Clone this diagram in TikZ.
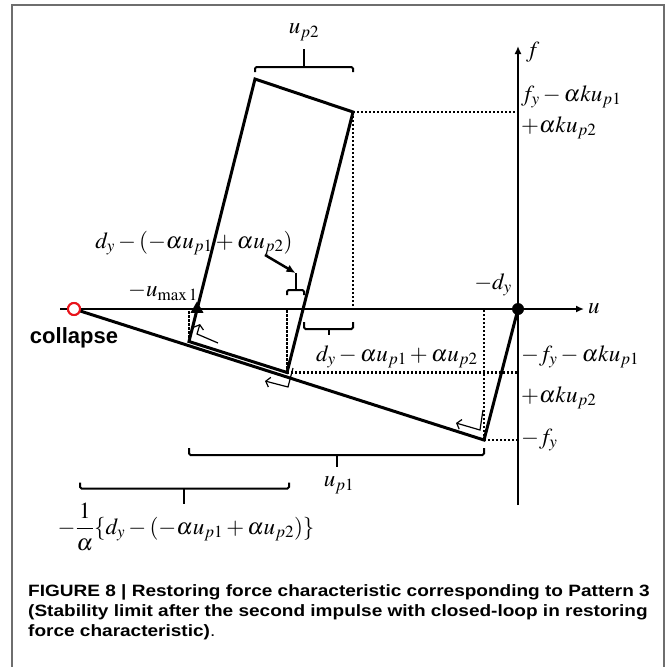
\documentclass[tikz,border=0pt]{standalone}
\usepackage{mathptmx}
\usepackage{fontspec}
\setsansfont{Liberation Sans}
\newfontfamily\capfont{Liberation Sans}[FakeStretch=1.16]
\usepackage{tikz}
\usetikzlibrary{positioning, arrows.meta, shapes.geometric}
\definecolor{framegray}{HTML}{6E6E6E}
\definecolor{collred}{HTML}{E8141B}
\tikzset{
  loopline/.style = {line width=3pt, line join=miter},
  axis/.style     = {line width=2pt, -{Latex[length=8pt,width=7pt]}},
  guide/.style    = {line width=2.2pt, dash pattern=on 2.2pt off 1.8pt},
  brack/.style    = {line width=2pt, rounded corners=1.5pt},
  pointer/.style  = {line width=2.5pt, -{Latex[length=9pt,width=8pt]}},
  flow/.style     = {line width=1.2pt, -{Straight Barb[length=4pt,width=10pt]}},
  lbl/.style      = {inner sep=0pt, font=\fontsize{23}{27}\selectfont},
  sanslbl/.style  = {inner sep=0pt, font=\sffamily\bfseries\fontsize{22}{26}\selectfont},
  captext/.style  = {inner sep=0pt, anchor=base west,
                     font=\capfont\bfseries\fontsize{16.4}{21}\selectfont},
  dot/.style      = {circle, fill=black, inner sep=0pt, minimum size=12pt},
  collmark/.style = {circle, draw=collred, fill=white, line width=2pt,
                     inner sep=0pt, minimum size=12pt},
  tri/.style      = {regular polygon, regular polygon sides=3, fill=black,
                     inner sep=0pt, minimum size=15pt},
}

\begin{document}
\begin{tikzpicture}[x=1pt, y=-1pt]
  \useasboundingbox (0,0) rectangle (667,667);

  % frame
  \draw[framegray, line width=1.5pt] (12,667) -- (12,5) -- (664,5) -- (664,667);

  % corners of the loop
  \coordinate (tl) at (255,79);
  \coordinate (tr) at (353,112);
  \coordinate (bl) at (189,341.5);
  \coordinate (br) at (287,372.5);
  \coordinate (fb) at (484,440);
  \coordinate (uL) at (60,309);
  \coordinate (uR) at (584,309);
  \coordinate (fB) at (518,505);
  \coordinate (fT) at (518,46);

  % axes
  \draw[axis] (uL) -- (uR);
  \draw[axis] (fB) -- (fT);

  % dotted guides
  \draw[guide] (tr) -- (tr -| fT);
  \draw[guide] (tr) -- (tr |- uL);
  \draw[guide] (bl) -- (bl |- uL);
  \draw[guide] (br) -- (br |- uL);
  \draw[guide] (br) -- (br -| fT);
  \draw[guide] (fb) -- (fb |- uL);
  \draw[guide] (fb) -- (fb -| fT);

  \node[dot]      (dy)  at (518,309) {};
  \node[collmark] (clp) at (74,309) {};

  % restoring force path
  \draw[loopline] (clp.center) -- (fb) -- (dy.center);
  \draw[loopline] (bl) -- (tl) -- (tr) -- (br) -- cycle;
  \node[collmark] at (clp) {};
  \node[tri] (umax) at (197,309) {};

  % direction marks
  \draw[flow] (218,343) -- (197,334) -- (200,324);
  \draw[flow] (293,368) -- (288,387) -- (265,381);
  \draw[flow] (483,410) -- (480,430) -- (456,423);

  % brackets
  \draw[brack] (255,72) -- (255,67) -- (353,67) -- (353,72);
  \draw[brack] (304,67) -- (304,49);
  \draw[brack] (287,295) -- (287,290) -- (304,290) -- (304,295);
  \draw[brack] (295.5,290) -- (295.5,273);
  \draw[brack] (304,322) -- (304,329) -- (353,329) -- (353,322);
  \draw[brack] (328.5,329) -- (328.5,335);
  \draw[brack] (189,448) -- (189,455) -- (484,455) -- (484,448);
  \draw[brack] (337,455) -- (337,467);
  \draw[brack] (80,482.5) -- (80,488.5) -- (289,488.5) -- (289,482.5);
  \draw[brack] (184,488.5) -- (184,503.5);

  % labels
  \node[lbl]             (lup2) at (304,32)  {$u_{p2}$};
  \node[lbl, anchor=west] (lf)  at (526,52)  {$f$};
  \node[lbl, anchor=west] (lfa) at (521,97)  {$f_y-\alpha k u_{p1}$};
  \node[lbl, anchor=west] (lfb) at (521,128) {$+\alpha k u_{p2}$};
  \node[lbl]             (ldr) at (194,243) {$d_y-(-\alpha u_{p1}+\alpha u_{p2})$};
  \node[lbl]             (lum) at (163,292) {$-u_{\mathrm{max}\,1}$};
  \node[lbl]             (ldy) at (493,285) {$-d_y$};
  \node[lbl, anchor=west] (lu)  at (588,309) {$u$};
  \node[sanslbl]         (lcol) at (74,338) {collapse};
  \node[lbl]             (ldm) at (397,357) {$d_y-\alpha u_{p1}+\alpha u_{p2}$};
  \node[lbl, anchor=west] (lfc) at (521,357) {$-f_y-\alpha k u_{p1}$};
  \node[lbl, anchor=west] (lfd) at (521,398) {$+\alpha k u_{p2}$};
  \node[lbl, anchor=west] (lfe) at (521,440) {$-f_y$};
  \node[lbl]             (lup1) at (339,485) {$u_{p1}$};
  \node[lbl]             (linv) at (186,527)
    {$-\displaystyle\frac{1}{\alpha}\{d_y-(-\alpha u_{p1}+\alpha u_{p2})\}$};

  \coordinate (ptr) at (265,255);
  \coordinate (stk) at (295.5,273);
  \draw[pointer] (ptr) -- (stk);

  % caption
  \node[captext] (cap1) at (28,596.5)
    {FIGURE 8 | Restoring force characteristic corresponding to Pattern 3};
  \node[captext] (cap2) at (28,616.5)
    {(Stability limit after the second impulse with closed-loop in restoring};
  \node[captext] (cap3) at (28,636.5) {force characteristic){\mdseries .}};
\end{tikzpicture}
\end{document}
